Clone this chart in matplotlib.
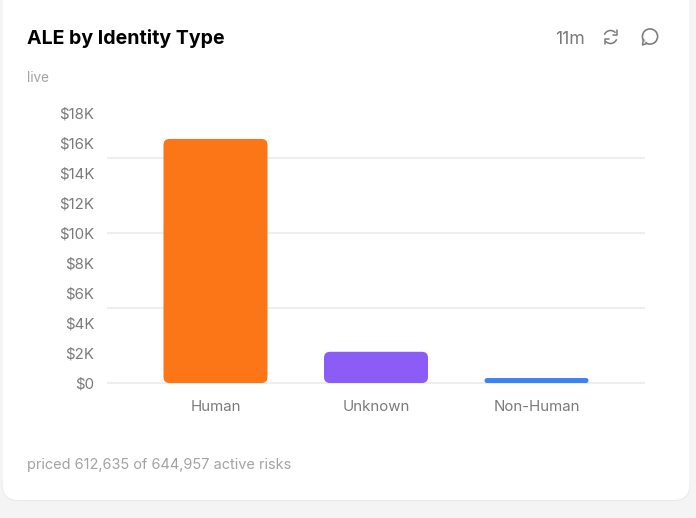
import numpy as np
import matplotlib
matplotlib.use('Agg')
import matplotlib.pyplot as plt
from matplotlib.patches import FancyBboxPatch, Circle, Arc, Polygon

plt.rcParams['font.family'] = ['Inter', 'DejaVu Sans']

categories = ['Human', 'Unknown', 'Non-Human']
values = [16270, 2080, 330]
colors = ['#fc7516', '#8b5cf6', '#3b82f6']
y_ticks = [0, 2000, 4000, 6000, 8000, 10000, 12000, 14000, 16000, 18000]
y_labels = ['$0', '$2K', '$4K', '$6K', '$8K', '$10K', '$12K', '$14K', '$16K', '$18K']
grid_lines = [0, 5000, 10000, 15000]

W, H = 696, 518
fig = plt.figure(figsize=(W / 100, H / 100), dpi=100, facecolor='#f4f4f4')

# overlay in pixel coordinates for the card and header
bg = fig.add_axes([0, 0, 1, 1], zorder=0)
bg.set_xlim(0, W)
bg.set_ylim(H, 0)
bg.axis('off')

bg.add_patch(FancyBboxPatch((2, -20), 688, 521, boxstyle='round,pad=0,rounding_size=16',
                            fc='#e9e9e9', ec='none'))
bg.add_patch(FancyBboxPatch((2.5, -20), 687, 520, boxstyle='round,pad=0,rounding_size=16',
                            fc='white', ec='none'))

bg.text(27, 37, 'ALE by Identity Type', fontsize=14.05, fontweight='bold', color='black',
        va='center_baseline', ha='left')
bg.text(27, 77, 'live', fontsize=9.7, color='#a3a3a3', va='center_baseline', ha='left')
bg.text(585, 38, '11m', fontsize=12.7, color='#7a7a7a', va='center_baseline', ha='right')
bg.text(27, 464, 'priced 612,635 of 644,957 active risks', fontsize=10.45, color='#a3a3a3',
        va='center_baseline', ha='left')

# refresh icon
icon = '#7a7a7a'
bg.add_patch(Arc((610.5, 37), 13, 13, theta1=200, theta2=320, color=icon, lw=1.1))
bg.add_patch(Arc((610.5, 37), 13, 13, theta1=20, theta2=140, color=icon, lw=1.1))
bg.plot([616.5, 616.5, 612.5], [30, 35, 35], color=icon, lw=1.1, solid_capstyle='round')
bg.plot([604.5, 604.5, 608.5], [44, 39, 39], color=icon, lw=1.1, solid_capstyle='round')

# comment icon
bg.add_patch(Circle((650, 36.5), 7.6, fc='none', ec=icon, lw=1.15))
bg.add_patch(Polygon([[642.5, 45], [643.4, 39.5], [646.8, 43.5]], closed=True, fc='white',
                     ec=icon, lw=1.1, joinstyle='round'))
bg.add_patch(Polygon([[644.2, 39.8], [645.8, 41.2], [646.6, 42.5], [644.6, 41.8]], closed=True,
                     fc='white', ec='none'))

# chart axes: $0 at y=383, $18K at y=113, x spans 107..645
x0, x1, y0, y1 = 107, 645, 383, 113
ax = fig.add_axes([x0 / W, 1 - y0 / H, (x1 - x0) / W, (y0 - y1) / H], zorder=1)
ax.patch.set_alpha(0)
ax.set_xlim(-0.676, 2.676)
ax.set_ylim(0, 18000)
for s in ax.spines.values():
    s.set_visible(False)
ax.set_yticks(y_ticks)
ax.set_yticklabels(y_labels, fontsize=10.8, color='#7a7a7a', va='center_baseline')
x_pos = np.arange(len(categories))
ax.set_xticks(x_pos)
ax.set_xticklabels(categories, fontsize=10.8, color='#7a7a7a')
ax.tick_params(axis='both', length=0)
ax.tick_params(axis='y', pad=9)
ax.tick_params(axis='x', pad=12.3)
for g in grid_lines:
    ax.axhline(g, color='#eeeeee', lw=1.5, zorder=1, clip_on=False, solid_capstyle='butt')

# rounded bars, placed in pixels through the axis scale
bar_w = 0.648
for x, v, c in zip(x_pos, values, colors):
    (px0, py0), (px1, py1) = ax.transData.transform([(x - bar_w / 2, 0), (x + bar_w / 2, v)])
    r = min(6, (py1 - py0) / 2)
    ax.add_patch(FancyBboxPatch((px0, py0), px1 - px0, py1 - py0,
                                boxstyle=f'round,pad=0,rounding_size={r}',
                                fc=c, ec='none', transform=None, zorder=3))

fig.savefig('out.png', dpi=100, facecolor=fig.get_facecolor())
